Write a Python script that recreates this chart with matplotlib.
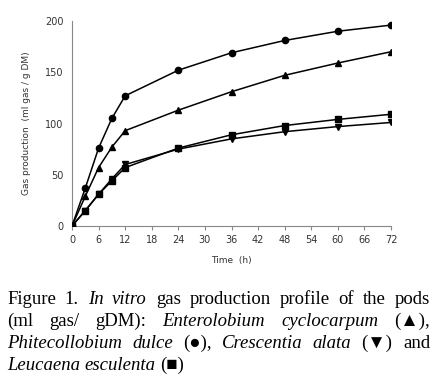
import matplotlib
matplotlib.use("Agg")
import matplotlib.pyplot as plt

time_h = [0, 3, 6, 9, 12, 24, 36, 48, 60, 72]
p_dulce = [0, 37, 76, 105, 127, 152, 169, 181, 190, 196]
e_cyclocarpum = [0, 29, 57, 77, 93, 113, 131, 147, 159, 170]
l_esculenta = [0, 15, 31, 44, 57, 76, 89, 98, 104, 109]
c_alata = [0, 15, 31, 46, 60, 75, 85, 92, 97, 101]
xticks = list(range(0, 73, 6))
yticks = [0, 50, 100, 150, 200]

W, H = 437, 383
fig = plt.figure(figsize=(W / 100, H / 100), dpi=100)
ax = fig.add_axes([72 / W, 1 - 226 / H, (391 - 72) / W, (226 - 21) / H])

series = [(p_dulce, 'o', 4.5), (e_cyclocarpum, '^', 4.5), (l_esculenta, 's', 4), (c_alata, 'v', 4)]
for ys, m, ms in series:
    ax.plot(time_h, ys, color='black', lw=1.1, marker=m, ms=ms, zorder=3)

ax.set_xlim(0, 72)
ax.set_ylim(0, 200)
ax.set_xticks(xticks)
ax.set_yticks(yticks)
for s in ['top', 'right']:
    ax.spines[s].set_visible(False)
for s in ['left', 'bottom']:
    ax.spines[s].set_color('#888888')
    ax.spines[s].set_linewidth(0.8)
ax.tick_params(axis='both', colors='#888888', labelcolor='#333333', labelsize=7, length=3, width=0.8)
ax.tick_params(axis='y', length=0, pad=6)
ax.set_xlabel('Time  (h)', fontsize=6.5, color='#333333', labelpad=8)
ax.set_ylabel('Gas production  (ml gas / g DM)', fontsize=6.5, color='#333333', labelpad=10)

# Caption (justified)
fam = ['Liberation Serif', 'DejaVu Sans']
fs = 13.5
lines = [
    [("Figure", 'n'), ("1.", 'n'), ("In", 'i'), ("vitro", 'i'), ("gas", 'n'), ("production", 'n'),
     ("profile", 'n'), ("of", 'n'), ("the", 'n'), ("pods", 'n')],
    [("(ml", 'n'), ("gas/", 'n'), ("gDM):", 'n'), ("Enterolobium", 'i'), ("cyclocarpum", 'i'), ("(\u25B2),", 'n')],
    [("Phitecollobium", 'i'), ("dulce", 'i'), ("(\u25CF),", 'n'), ("Crescentia", 'i'), ("alata", 'i'),
     ("(\u25BC)", 'n'), ("and", 'n')],
    [("Leucaena", 'i'), ("esculenta", 'i'), ("(\u25A0)", 'n')],
]
x0, x1 = 7, 430
ys_px = [304, 326, 348, 370]
fig.canvas.draw()
r = fig.canvas.get_renderer()
for li, (words, ypx) in enumerate(zip(lines, ys_px)):
    texts = []
    for w, st in words:
        t = fig.text(0, 1 - ypx / H, w, fontsize=fs, family=fam,
                     style='italic' if st == 'i' else 'normal', va='baseline', ha='left')
        texts.append(t)
    widths = [t.get_window_extent(renderer=r).width for t in texts]
    space = fs * 0.25 * 100 / 72
    if li < len(lines) - 1:
        gap = (x1 - x0 - sum(widths)) / (len(texts) - 1)
    else:
        gap = space
    x = x0
    for t, wd in zip(texts, widths):
        t.set_x(x / W)
        x += wd + gap

fig.savefig('out.png', dpi=100, facecolor='white')
